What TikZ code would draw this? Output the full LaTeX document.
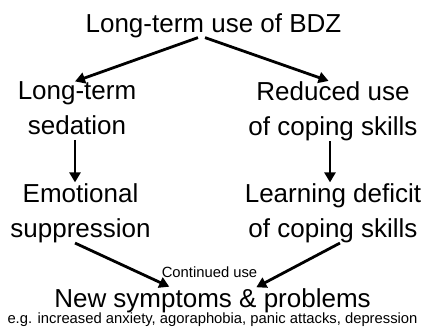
\documentclass[tikz,border=0pt]{standalone}
\usepackage{fontspec}
\setmainfont{Liberation Sans}
\usetikzlibrary{arrows.meta}
\tikzset{
  big/.style={font=\fontsize{26}{35}\selectfont, inner sep=0pt, align=center},
  small/.style={font=\fontsize{14.8}{17}\selectfont, inner sep=0pt},
  arr/.style={-{Triangle[length=10pt,width=11pt]}, line width=2.8pt},
}
\begin{document}
\begin{tikzpicture}[x=1pt,y=-1pt]
  \useasboundingbox (0,0) rectangle (430,335);
  \node[big, anchor=base] (bdz) at (213.5,32) {Long-term use of BDZ};
  \node[big, anchor=north] (sed) at (77,81.4) {Long-term\\sedation};
  \node[big, anchor=north] (red) at (333,81.4) {Reduced use\\of coping skills};
  \node[big, anchor=north] (emo) at (80.5,183.4) {Emotional\\suppression};
  \node[big, anchor=north] (lea) at (333,183.4) {Learning deficit\\of coping skills};
  \node[small, anchor=base] (cont) at (209.5,277) {Continued use};
  \node[big, anchor=base] (new) at (212.5,307) {New symptoms \& problems};
  \node[small, anchor=base] (eg) at (212.5,323) {e.g. increased anxiety, agoraphobia, panic attacks, depression};
  % arrows
  \draw[arr] ([xshift=-15.5pt]bdz.south) -- ([xshift=-2pt]sed.north);
  \draw[arr, shorten >=1.5pt] ([xshift=-8.5pt]bdz.south) -- ([xshift=-3pt]red.north);
  \draw[arr, shorten <=5pt, shorten >=1pt] ([xshift=-2pt]sed.south) -- ([xshift=-5.5pt]emo.north);
  \draw[arr, shorten >=1pt] ([xshift=-3pt]red.south) -- ([xshift=-3pt]lea.north);
  \draw[arr, shorten >=3pt] ([xshift=-5.5pt]emo.south) -- ([xshift=-40.5pt]new.north);
  \draw[arr, shorten >=1.5pt] ([xshift=7pt]lea.south) -- ([xshift=42.5pt]new.north);
\end{tikzpicture}
\end{document}
